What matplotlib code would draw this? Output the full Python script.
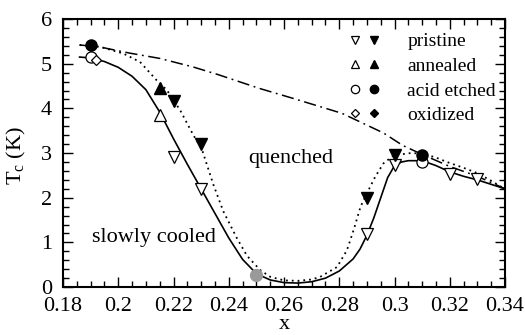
import matplotlib
matplotlib.use("Agg")
import matplotlib.pyplot as plt
from matplotlib.legend_handler import HandlerTuple
from matplotlib.ticker import MultipleLocator

plt.rcParams['font.family'] = ['Liberation Serif', 'DejaVu Serif']
plt.rcParams['mathtext.fontset'] = 'custom'
plt.rcParams['mathtext.rm'] = 'Liberation Serif'
plt.rcParams['mathtext.it'] = 'Liberation Serif'
plt.rcParams['mathtext.default'] = 'regular'

# ---- data ----
pristine_open_x = [0.22, 0.23, 0.29, 0.30, 0.32, 0.33]
pristine_open_y = [2.91, 2.19, 1.18, 2.74, 2.53, 2.42]
pristine_filled_x = [0.22, 0.23, 0.29, 0.30]
pristine_filled_y = [4.17, 3.21, 1.99, 2.96]
annealed_open_x = [0.215]
annealed_open_y = [3.85]
annealed_filled_x = [0.215]
annealed_filled_y = [4.45]
acid_open_x = [0.19, 0.31]
acid_open_y = [5.15, 2.79]
acid_filled_x = [0.19, 0.31]
acid_filled_y = [5.41, 2.95]
oxid_open_x = [0.192]
oxid_open_y = [5.09]
oxid_filled_x = [0.19]
oxid_filled_y = [5.40]
gray_x = [0.25]
gray_y = [0.27]

# slowly cooled (solid)
slow_x = [0.186, 0.19, 0.195, 0.2, 0.205, 0.21, 0.215, 0.22, 0.225, 0.23,
          0.235, 0.24, 0.245, 0.25, 0.255, 0.26, 0.265, 0.27, 0.275, 0.28,
          0.285, 0.2875, 0.29, 0.2925, 0.295, 0.2975, 0.3, 0.3025, 0.305, 0.31,
          0.315, 0.32, 0.325, 0.33, 0.335, 0.34]
slow_y = [5.15, 5.13, 5.05, 4.92, 4.72, 4.42, 3.92, 3.32, 2.75, 2.2,
          1.65, 1.1, 0.62, 0.3, 0.16, 0.1, 0.09, 0.12, 0.2, 0.36,
          0.63, 0.85, 1.16, 1.55, 2.0, 2.45, 2.72, 2.8, 2.83, 2.83,
          2.72, 2.58, 2.48, 2.4, 2.3, 2.2]

# quenched (dotted)
quench_x = [0.186, 0.1934, 0.2018, 0.2079, 0.2139, 0.2176, 0.2224, 0.2272, 0.2302, 0.2344,
            0.238, 0.2429, 0.2466, 0.2514, 0.255, 0.26, 0.265, 0.27, 0.2731, 0.2792,
            0.2828, 0.2852, 0.2877, 0.29, 0.293, 0.296, 0.2997, 0.3058, 0.31, 0.315,
            0.319, 0.325, 0.33, 0.335, 0.3393]
quench_y = [5.42, 5.38, 5.23, 5.04, 4.63, 4.41, 3.96, 3.4, 3.1, 2.3,
            1.7, 1.1, 0.7, 0.38, 0.23, 0.15, 0.14, 0.17, 0.23, 0.45,
            0.83, 1.28, 1.8, 2.1, 2.47, 2.77, 2.95, 3.0, 2.99, 2.9,
            2.8, 2.67, 2.55, 2.38, 2.22]

# dash-dot line
dd_x = [0.186, 0.193, 0.204, 0.215, 0.227, 0.236, 0.251, 0.263, 0.281, 0.296,
        0.303, 0.31, 0.32, 0.33, 0.34]
dd_y = [5.42, 5.38, 5.24, 5.12, 4.93, 4.76, 4.45, 4.23, 3.89, 3.45,
        3.17, 2.97, 2.7, 2.48, 2.2]

legend_labels = ['pristine', 'annealed', 'acid etched', 'oxidized']
xticks = [0.18, 0.2, 0.22, 0.24, 0.26, 0.28, 0.3, 0.32, 0.34]
xtick_labels = ['0.18', '0.2', '0.22', '0.24', '0.26', '0.28', '0.3', '0.32', '0.34']
yticks = [0, 1, 2, 3, 4, 5, 6]

fig = plt.figure(figsize=(5.25, 3.35), dpi=100)
ax = fig.add_axes([0.12, 0.143, 0.842, 0.800])

ax.plot(dd_x, dd_y, color='black', lw=1.1, linestyle=(0, (8, 3, 1.2, 3)), zorder=2)
ax.plot(quench_x, quench_y, color='black', lw=1.3, linestyle=(0, (1, 2.2)), zorder=2)
ax.plot(slow_x, slow_y, color='black', lw=1.2, linestyle='-', zorder=2)

ms = 8
op = dict(linestyle='none', markerfacecolor='white', markeredgecolor='black', markeredgewidth=0.9, zorder=3)
fp = dict(linestyle='none', color='black', zorder=3)

h_po, = ax.plot(pristine_open_x, pristine_open_y, marker='v', ms=ms, **op)
h_pf, = ax.plot(pristine_filled_x, pristine_filled_y, marker='v', ms=ms, **fp)
h_ao, = ax.plot(annealed_open_x, annealed_open_y, marker='^', ms=ms, **op)
h_af, = ax.plot(annealed_filled_x, annealed_filled_y, marker='^', ms=ms, **fp)
h_co, = ax.plot(acid_open_x, acid_open_y, marker='o', ms=ms, **op)
h_cf, = ax.plot(acid_filled_x, acid_filled_y, marker='o', ms=ms, **fp)
h_do, = ax.plot(oxid_open_x, oxid_open_y, marker='D', ms=5.5, **op)
h_df, = ax.plot(oxid_filled_x, oxid_filled_y, marker='D', ms=5.5, **fp)
ax.plot(gray_x, gray_y, linestyle='none', marker='o', ms=8.5, color='#999999', zorder=3)

ax.text(0.2626, 2.89, 'quenched', fontsize=16, ha='center', va='center')
ax.text(0.213, 1.12, 'slowly cooled', fontsize=16, ha='center', va='center')

ax.set_xlim(0.18, 0.34)
ax.set_ylim(0, 6)
ax.set_xticks(xticks)
ax.set_xticklabels(xtick_labels)
ax.set_yticks(yticks)
ax.xaxis.set_minor_locator(MultipleLocator(0.005))
ax.yaxis.set_minor_locator(MultipleLocator(0.2))
ax.tick_params(which='both', direction='in', top=True, right=True, labelsize=16, width=1.0)
ax.tick_params(which='major', length=7)
ax.tick_params(which='minor', length=4)
ax.tick_params(axis='x', which='major', pad=7)
ax.tick_params(axis='y', which='major', pad=8)
for s in ax.spines.values():
    s.set_linewidth(1.5)

ax.set_xlabel('x', fontsize=16)
ax.set_ylabel(r'T$_c$ (K)', fontsize=16)
ax.xaxis.set_label_coords(0.5, -0.105)
ax.yaxis.set_label_coords(-0.079, 0.49)

leg = ax.legend([(h_po, h_pf), (h_ao, h_af), (h_co, h_cf), (h_do, h_df)], legend_labels,
                handler_map={tuple: HandlerTuple(ndivide=None, pad=0.4)},
                loc='upper left', bbox_to_anchor=(0.629, 0.978), frameon=False,
                fontsize=14, handlelength=1.6, handletextpad=1.4, labelspacing=0.36,
                borderaxespad=0.0, markerscale=0.75)

fig.savefig('out.png', dpi=100)
